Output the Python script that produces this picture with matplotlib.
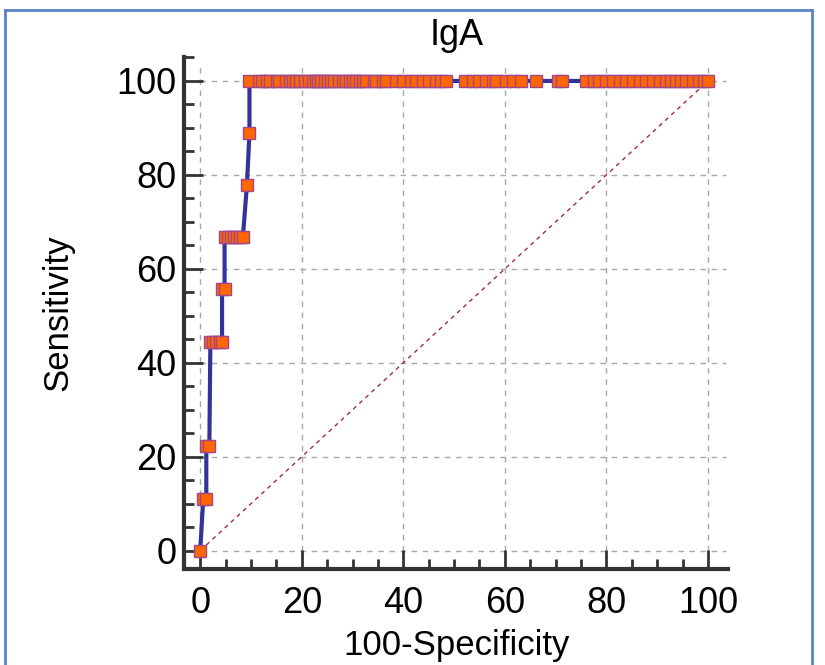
import matplotlib
matplotlib.use("Agg")
import matplotlib.pyplot as plt
from matplotlib.lines import Line2D
from matplotlib.ticker import MultipleLocator

plt.rcParams['font.family'] = ['Liberation Sans', 'DejaVu Sans']

# ROC points, lower part of the curve (100-Specificity, Sensitivity)
fpr_low = [0, 0.6, 1.2, 1.2, 1.8, 2.0, 2.6, 3.2, 3.8, 4.3, 4.3, 4.8,
           4.8, 5.4, 6.0, 6.6, 7.2, 7.8, 8.4, 9.2, 9.7]
tpr_low = [0, 11.1, 11.1, 22.2, 22.2, 44.4, 44.4, 44.4, 44.4, 44.4, 55.6, 55.6,
           66.7, 66.7, 66.7, 66.7, 66.7, 66.7, 66.7, 77.8, 88.9]

# points along sensitivity = 100
fpr_top = [9.7, 11.6, 12.2, 13.1, 13.7, 15.1, 15.6, 16.8, 17.6, 18.2, 18.9,
           19.6, 20.6, 21.4, 22.2, 22.8, 23.2, 23.8, 24.5, 25.1, 25.8, 26.3,
           27.4, 28.1, 28.8, 29.4, 30.1, 30.7, 31.4, 32.0, 32.7, 34.2, 34.7,
           36.0, 36.6, 38.6, 39.9, 41.6, 42.5, 43.9, 45.0, 46.5, 47.5, 48.4,
           52.1, 53.7, 55.0, 56.3, 57.6, 58.3, 60.3, 61.6, 63.1, 66.1, 70.4,
           71.2, 76.0, 77.6, 78.6, 79.9, 81.2, 82.6, 83.9, 85.2, 86.6, 87.8,
           89.2, 90.5, 91.8, 92.7, 93.7, 94.7, 95.7, 97.0, 98.3, 99.2, 100]
tpr_top = [100] * len(fpr_top)

fpr = fpr_low + fpr_top
tpr = tpr_low + tpr_top

ticks = [0, 20, 40, 60, 80, 100]

fig = plt.figure(figsize=(8.25, 6.65), dpi=100)
ax = fig.add_axes([0.2236, 0.1444, 0.6592, 0.7692])
ax.set_xlim(-3.1, 104)
ax.set_ylim(-3.9, 105)

# grid (only over the data range)
for t in ticks:
    ax.plot([t, t], [0, 103.4], color='#a8a8a8', lw=1, ls=(0, (4, 4)), zorder=1)
    ax.plot([0, 103.5], [t, t], color='#a8a8a8', lw=1, ls=(0, (4, 4)), zorder=1)

# reference diagonal
ax.plot([0, 100], [0, 100], color='#a03030', lw=1, ls=(0, (3, 3)), zorder=2)

ax.plot(fpr, tpr, color='#333399', lw=3, marker='s', ms=8.8,
        mfc='#ff6600', mec='#a0468c', mew=1, zorder=3, clip_on=False)

for s in ['top', 'right']:
    ax.spines[s].set_visible(False)
for s in ['left', 'bottom']:
    ax.spines[s].set_linewidth(3)
    ax.spines[s].set_color('#333333')

ax.set_xticks(ticks)
ax.set_yticks(ticks)
ax.xaxis.set_minor_locator(MultipleLocator(5))
ax.yaxis.set_minor_locator(MultipleLocator(5))
ax.tick_params(which='major', direction='in', length=14, width=2, color='#333333',
               labelsize=26, pad=6)
ax.tick_params(which='minor', direction='in', length=7, width=2, color='#333333')
ax.tick_params(axis='x', which='major', pad=12)

ax.set_xlabel('100-Specificity', fontsize=25, labelpad=6)
ax.set_ylabel('Sensitivity', fontsize=25, labelpad=30)
ax.set_title('IgA', fontsize=26, pad=9)

# outer frame
c = '#5b84c4'
fig.add_artist(Line2D([5/825, 812/825], [655/665, 655/665], color=c, lw=2))
fig.add_artist(Line2D([5/825, 5/825], [655/665, -0.1], color=c, lw=2))
fig.add_artist(Line2D([812/825, 812/825], [655/665, -0.1], color=c, lw=2))

fig.savefig('out.png', dpi=100)
